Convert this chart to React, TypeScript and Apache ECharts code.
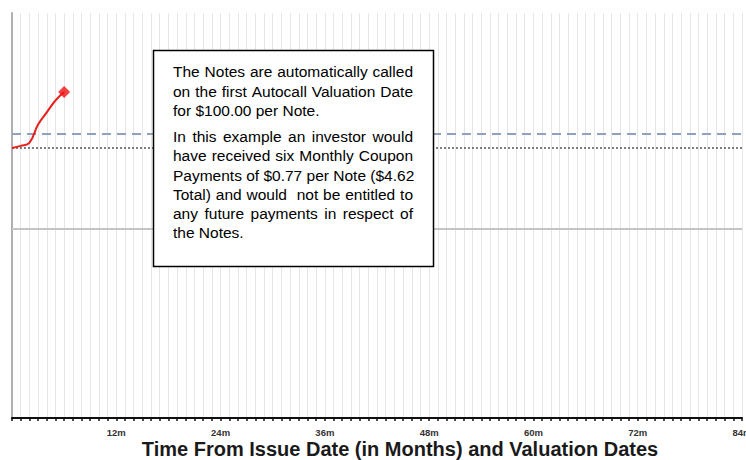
import React, { useEffect, useRef } from "react";
import * as echarts from "echarts";

// Months from issue date and the underlying's level (% of initial)
const months = [0, 1, 2, 3, 4, 5, 6];
const levels = [100, 100.8, 101.9, 108.7, 113.2, 117.6, 120.7];

const initialLevel = 100;
const autocallLevel = 105.2;
const barrierLevel = 70;

const xTickLabels = [12, 24, 36, 48, 60, 72, 84];
const xAxisTitle = "Time From Issue Date (in Months) and Valuation Dates";

const boxPara1 = [
  "The Notes are automatically called",
  "on the first Autocall Valuation Date",
  "for $100.00 per Note.",
];
const boxPara2 = [
  "In this example an investor would",
  "have received six Monthly Coupon",
  "Payments of $0.77 per Note ($4.62",
  "Total) and would  not be entitled to",
  "any future payments in respect of",
  "the Notes.",
];

const BOX_FONT = "15.5px 'Liberation Sans', Arial, sans-serif";

function measure(ctx: CanvasRenderingContext2D | null, s: string): number {
  if (!ctx) return s.length * 7.5;
  return ctx.measureText(s).width;
}

// Build justified lines (all but the paragraph's last line are stretched to width)
function paragraphGraphics(lines: string[], left: number, width: number, top: number, lh: number) {
  const canvas = document.createElement("canvas");
  const ctx = canvas.getContext("2d");
  if (ctx) ctx.font = BOX_FONT;
  const els: any[] = [];
  lines.forEach((line, i) => {
    const y = top + i * lh;
    const isLast = i === lines.length - 1;
    const words = line.split(" ");
    const wordWidths = words.map((w) => measure(ctx, w));
    const total = wordWidths.reduce((a, b) => a + b, 0);
    const natural = measure(ctx, line);
    if (isLast || natural > width) {
      els.push({
        type: "text",
        x: left,
        y,
        z: 11,
        style: { text: line, font: BOX_FONT, fill: "#000", verticalAlign: "middle" },
      });
      return;
    }
    const gap = (width - total) / (words.length - 1);
    let x = left;
    words.forEach((w, j) => {
      if (w.length) {
        els.push({
          type: "text",
          x,
          y,
          z: 11,
          style: { text: w, font: BOX_FONT, fill: "#000", verticalAlign: "middle" },
        });
      }
      x += wordWidths[j] + gap;
    });
  });
  return els;
}

export default function App() {
  const ref = useRef<HTMLDivElement>(null);
  useEffect(() => {
    if (!ref.current) return;
    const chart = echarts.init(ref.current, null, { renderer: "svg" });
    const lineData = months.map((m, i) => [m, levels[i]]);
    const last = lineData[lineData.length - 1];
    chart.setOption({
      animation: false,
      backgroundColor: "#ffffff",
      grid: { left: 12, right: 4, top: 13, bottom: 42, outerBoundsMode: "none", containLabel: false },
      xAxis: {
        type: "value",
        min: 0,
        max: 84,
        interval: 1,
        axisLine: { show: true, lineStyle: { color: "#111", width: 2 } },
        axisTick: { show: true, length: 3, lineStyle: { color: "#111", width: 1.5 } },
        axisLabel: {
          margin: 9,
          fontFamily: "Liberation Sans, Arial, sans-serif",
          fontWeight: "bold",
          fontSize: 9.5,
          color: "#333",
          formatter: (v: number) => (xTickLabels.includes(v) ? v + "m" : ""),
        },
        splitLine: { show: true, lineStyle: { color: "#e6e6e6", width: 1 } },
      },
      yAxis: {
        type: "value",
        min: 0,
        max: 150,
        axisLine: { show: true, lineStyle: { color: "#b0b0b0", width: 2 } },
        axisTick: { show: false },
        axisLabel: { show: false },
        splitLine: { show: false },
      },
      series: [
        {
          type: "line",
          data: [],
          silent: true,
          markLine: {
            silent: true,
            symbol: "none",
            label: { show: false },
            data: [
              { yAxis: barrierLevel, lineStyle: { color: "#c4c4c4", width: 2, type: "solid" } },
              { yAxis: autocallLevel, lineStyle: { color: "#8fa2bd", width: 2, type: [9, 6] } },
              { yAxis: initialLevel, lineStyle: { color: "#555", width: 1.5, type: [2, 2] } },
            ],
          },
        },
        {
          type: "line",
          data: lineData,
          smooth: 0.4,
          symbol: "none",
          lineStyle: { color: "#e8201c", width: 2 },
          z: 5,
        },
        {
          type: "scatter",
          data: [last],
          symbol: "diamond",
          symbolSize: 12,
          itemStyle: { color: "#f01010" },
          z: 6,
        },
      ],
      graphic: [
        {
          type: "text",
          x: 400,
          y: 449,
          style: {
            text: xAxisTitle,
            font: "bold 20px 'Liberation Sans', Arial, sans-serif",
            fill: "#1a1a1a",
            align: "center",
            verticalAlign: "middle",
          },
        },
        {
          type: "rect",
          shape: { x: 153.5, y: 50.5, width: 280, height: 216 },
          style: { fill: "#fff", stroke: "#000", lineWidth: 1.5 },
          z: 10,
        },
        ...paragraphGraphics(boxPara1, 173, 240, 71.5, 19.7),
        ...paragraphGraphics(boxPara2, 173, 240, 136.7, 19.2),
      ],
    });
    return () => chart.dispose();
  }, []);
  return (
    <div
      ref={ref}
      style={{ position: "fixed", left: 0, top: 0, width: 746, height: 460 }}
    />
  );
}
